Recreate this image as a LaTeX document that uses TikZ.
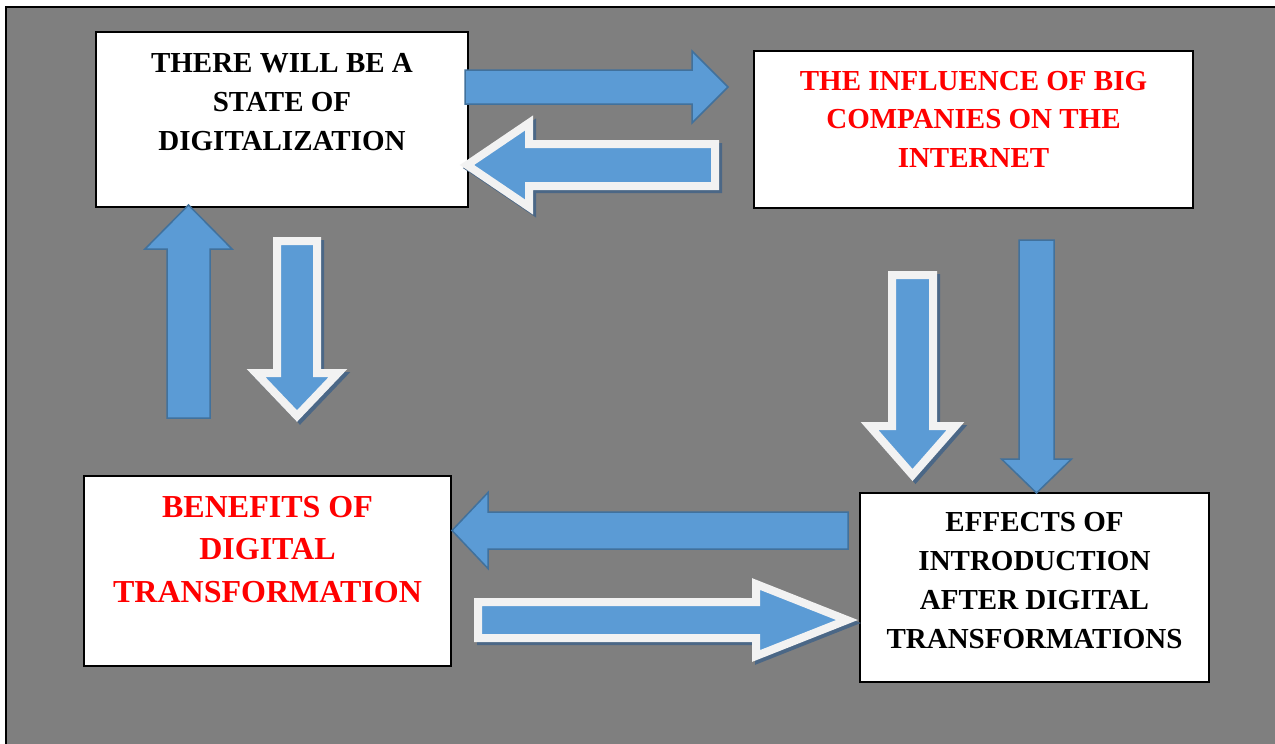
\documentclass[tikz,border=0pt]{standalone}
\usepackage{fontspec}
\setmainfont{Liberation Serif}
\usepackage{tikz}
\usetikzlibrary{calc,positioning}
\definecolor{PanelGray}{HTML}{7F7F7F}
\definecolor{ArrowBlue}{HTML}{5B9BD5}
\definecolor{ArrowEdge}{HTML}{41719C}
\definecolor{ArrowWhite}{HTML}{F2F2F2}
\definecolor{ArrowShadow}{HTML}{4B6786}
\definecolor{TitleRed}{HTML}{FF0000}

% block arrow: style, tail, tip, shaft half width, head half width, head length
\newcommand{\blockarrow}[6]{%
  \coordinate (bh) at ($(#3)!#6pt!(#2)$);
  \draw[#1] ($(#2)!#4pt!90:(#3)$) -- ($(bh)!#4pt!-90:(#2)$) -- ($(bh)!#5pt!-90:(#2)$) -- (#3)
    -- ($(bh)!#5pt!90:(#2)$) -- ($(bh)!#4pt!90:(#2)$) -- ($(#2)!#4pt!-90:(#3)$) -- cycle;
}

\tikzset{
  box/.style={draw=black,line width=1.5pt,fill=white,inner sep=0pt},
  boxtext/.style={align=center,inner sep=0pt,font=\bfseries\fontsize{29}{38.8}\selectfont},
  solidarrow/.style={fill=ArrowBlue,draw=ArrowEdge,line width=1.5pt},
  whitearrow/.style={fill=ArrowBlue,draw=ArrowWhite,line width=8pt},
  arrowshadow/.style={fill=ArrowShadow,draw=ArrowShadow,line width=8pt,transform canvas={xshift=3pt,yshift=-3pt}},
}

\begin{document}
\begin{tikzpicture}[x=1pt,y=-1pt]
  \useasboundingbox (0,0) rectangle (1275,744);
  \fill[white] (0,0) rectangle (1275,744);
  \fill[PanelGray] (6,7) rectangle (1275,744);
  \draw[line width=2pt] (1275,7) -- (6,7) -- (6,744);

  % boxes
  \node[box,minimum width=372pt,minimum height=175pt] (b1) at (282,119.5) {};
  \node[box,minimum width=439pt,minimum height=157pt] (b2) at (973.5,129.5) {};
  \node[box,minimum width=367pt,minimum height=190pt] (b3) at (267.5,571) {};
  \node[box,minimum width=349pt,minimum height=189pt] (b4) at (1034.5,587.5) {};

  \node[boxtext,below=22pt of b1.north] (t1) {THERE WILL BE A\\STATE OF\\DIGITALIZATION};
  \node[boxtext,text=TitleRed,below=20.5pt of b2.north] (t2) {THE INFLUENCE OF BIG\\COMPANIES ON THE\\INTERNET};
  \node[boxtext,text=TitleRed,font=\bfseries\fontsize{32}{42.5}\selectfont,below=20.5pt of b3.north] (t3) {BENEFITS OF\\DIGITAL\\TRANSFORMATION};
  \node[boxtext,below=20pt of b4.north] (t4) {EFFECTS OF\\INTRODUCTION\\AFTER DIGITAL\\TRANSFORMATIONS};

  % arrow ends
  \coordinate (a1t) at (465,87);     \coordinate (a1h) at (728,87);
  \coordinate (a2t) at (715,165);    \coordinate (a2h) at (467,165);
  \coordinate (a3t) at (188.5,418);  \coordinate (a3h) at (188.5,205);
  \coordinate (a4t) at (297,241);    \coordinate (a4h) at (297,416);
  \coordinate (a5t) at (912.5,275);  \coordinate (a5h) at (912.5,475);
  \coordinate (a6t) at (1036.5,240); \coordinate (a6h) at (1036.5,493);
  \coordinate (a7t) at (848,530.5);  \coordinate (a7h) at (452,530.5);
  \coordinate (a8t) at (478,620);    \coordinate (a8h) at (847,620);

  \foreach \tl/\hd/\sh/\hw/\hl in {a1t/a1h/17/36/36,a3t/a3h/21.5/43.5/44,a6t/a6h/17.5/35/34,a7t/a7h/18.5/38/36}{
    \blockarrow{solidarrow}{\tl}{\hd}{\sh}{\hw}{\hl}
  }
  \foreach \tl/\hd/\sh/\hw/\hl in {a2t/a2h/21/42/62,a4t/a4h/20/41/43,a5t/a5h/20.5/43/49,a8t/a8h/18/36/91}{
    \blockarrow{arrowshadow}{\tl}{\hd}{\sh}{\hw}{\hl}
    \blockarrow{whitearrow}{\tl}{\hd}{\sh}{\hw}{\hl}
  }
\end{tikzpicture}
\end{document}
